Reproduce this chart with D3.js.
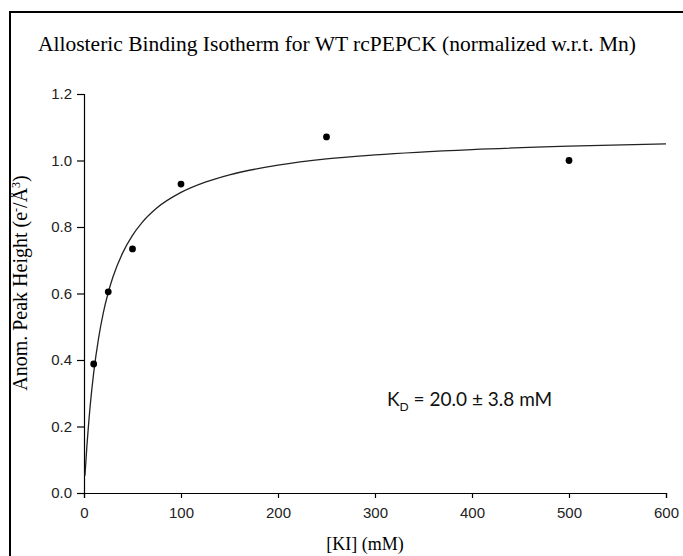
<!DOCTYPE html>
<html>
<head>
<meta charset="utf-8">
<script src="https://cdn.jsdelivr.net/npm/d3@7"></script>
<style>
  body { margin: 0; background: #fff; }
  svg { display: block; }
</style>
</head>
<body>
<div id="chart"></div>
<script>
// measured points: [KI] (mM) vs anomalous peak height
var kiConc = [10, 25, 50, 100, 250, 500];
var peakHeight = [0.388, 0.605, 0.734, 0.929, 1.071, 1.0];

// fitted binding curve
var fitX = [1, 3, 5, 8, 10, 15, 20, 25, 30, 40, 50, 60, 75, 100, 125, 150, 200, 250, 300, 400, 500, 600];
var fitY = [0.052, 0.142, 0.217, 0.310, 0.362, 0.465, 0.543, 0.603, 0.651, 0.723, 0.775, 0.814, 0.857, 0.904, 0.935, 0.957, 0.986, 1.005, 1.017, 1.033, 1.043, 1.050];

var xTicks = [0, 100, 200, 300, 400, 500, 600];
var yTicks = [0, 0.2, 0.4, 0.6, 0.8, 1.0, 1.2];

var W = 683, H = 556;
var margin = {top: 94, right: 17, bottom: 63, left: 84};

var svg = d3.select("#chart").append("svg")
    .attr("width", W)
    .attr("height", H);

// frame (only left and top edges show in the picture)
svg.append("line").attr("x1", 10).attr("x2", 10).attr("y1", 11).attr("y2", H)
  .attr("stroke", "#000").attr("stroke-width", 2);
svg.append("line").attr("x1", 9).attr("x2", W).attr("y1", 12).attr("y2", 12)
  .attr("stroke", "#000").attr("stroke-width", 2);

var x = d3.scaleLinear().domain([0, 600]).range([margin.left, W - margin.right]);
var y = d3.scaleLinear().domain([0, 1.2]).range([H - margin.bottom, margin.top]);

var serif = "'Liberation Serif', 'Times New Roman', serif";

svg.append("text")
  .attr("x", 337).attr("y", 51)
  .attr("text-anchor", "middle")
  .style("font-family", serif)
  .style("font-size", "21.5px")
  .text("Allosteric Binding Isotherm for WT rcPEPCK (normalized w.r.t. Mn)");

var xAxis = svg.append("g")
  .attr("transform", `translate(0,${y(0)})`)
  .call(d3.axisBottom(x).tickValues(xTicks).tickFormat(d3.format("d")).tickSize(5).tickPadding(9));

var yAxis = svg.append("g")
  .attr("transform", `translate(${x(0)},0)`)
  .call(d3.axisLeft(y).tickValues(yTicks).tickFormat(d3.format(".1f")).tickSize(7).tickPadding(5));

[xAxis, yAxis].forEach(g => {
  g.select(".domain").attr("stroke", "#000").attr("stroke-width", 1.2);
  g.selectAll(".tick line").attr("stroke", "#000").attr("stroke-width", 1.2);
  g.selectAll(".tick text")
    .attr("fill", "#222")
    .style("font-family", "'Liberation Sans', Arial, sans-serif")
    .style("font-size", "15px");
});

// axis titles
svg.append("text")
  .attr("x", 365).attr("y", 550)
  .attr("text-anchor", "middle")
  .style("font-family", serif)
  .style("font-size", "18px")
  .text("[KI] (mM)");

var yt = svg.append("text")
  .attr("transform", `translate(27,283) rotate(-90)`)
  .attr("text-anchor", "middle")
  .style("font-family", serif)
  .style("font-size", "20px");
yt.append("tspan").text("Anom. Peak Height (e");
yt.append("tspan").attr("dy", -7).style("font-size", "12px").text("-");
yt.append("tspan").attr("dy", 7).text("/Å");
yt.append("tspan").attr("dy", -7).style("font-size", "12px").text("3");
yt.append("tspan").attr("dy", 7).text(")");

// fit curve
var fitData = fitX.map((d, i) => [d, fitY[i]]);
var line = d3.line()
  .x(d => x(d[0]))
  .y(d => y(d[1]))
  .curve(d3.curveMonotoneX);

svg.append("path")
  .datum(fitData)
  .attr("fill", "none")
  .attr("stroke", "#222")
  .attr("stroke-width", 1.3)
  .attr("d", line);

// data points
svg.selectAll("circle.pt")
  .data(kiConc.map((d, i) => [d, peakHeight[i]]))
  .join("circle")
  .attr("class", "pt")
  .attr("cx", d => x(d[0]))
  .attr("cy", d => y(d[1]))
  .attr("r", 3.4)
  .attr("fill", "#000");

// Kd annotation
var kd = svg.append("text")
  .attr("x", 387).attr("y", 406)
  .style("font-family", "Lato, 'Open Sans', sans-serif")
  .style("font-size", "19px")
  .attr("fill", "#111");
kd.append("tspan").text("K");
kd.append("tspan").attr("dy", 5).style("font-size", "12px").text("D");
kd.append("tspan").attr("dy", -5).text(" = 20.0 ± 3.8 mM");
</script>
</body>
</html>
